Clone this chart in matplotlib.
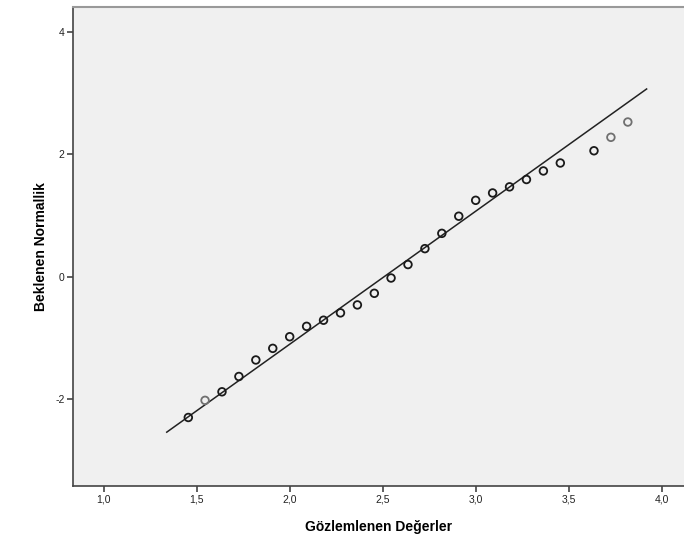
import numpy as np
import matplotlib.pyplot as plt
from matplotlib.ticker import FixedLocator, FuncFormatter

plt.rcParams['font.family'] = ['Liberation Sans', 'DejaVu Sans']

# gozlenen degerler (x) ve beklenen normal degerler (y)
obs = [1.455, 1.545, 1.636, 1.727, 1.818, 1.909, 2.0, 2.091, 2.182, 2.273,
       2.364, 2.455, 2.545, 2.636, 2.727, 2.818, 2.909, 3.0, 3.091, 3.182,
       3.273, 3.364, 3.455, 3.636, 3.727, 3.818]
expected = [-2.30, -2.02, -1.88, -1.63, -1.36, -1.17, -0.98, -0.81, -0.71, -0.59,
            -0.46, -0.27, -0.02, 0.20, 0.46, 0.71, 0.99, 1.25, 1.37, 1.47,
            1.59, 1.73, 1.86, 2.06, 2.28, 2.53]
# tekrar eden degerler daha koyu gorunuyor
dark = [1, 0, 1, 1, 1, 1, 1, 1, 1, 1,
        1, 1, 1, 1, 1, 1, 1, 1, 1, 1,
        1, 1, 1, 1, 0, 0]

# referans dogrusu
line_x = [1.339, 3.919]
line_y = [-2.54, 3.07]

xticks = [1.0, 1.5, 2.0, 2.5, 3.0, 3.5, 4.0]
yticks = [-2, 0, 2, 4]

fig = plt.figure(figsize=(6.84, 5.5), dpi=100)
ax = fig.add_axes([73 / 684, 1 - 486 / 550, (684 - 73) / 684, (486 - 7) / 550])
ax.set_facecolor('#f0f0f0')

ax.plot(line_x, line_y, color='#222222', lw=1.1, zorder=2)
cols = ['#1a1a1a' if d else '#707070' for d in dark]
ax.scatter(obs, expected, s=30, facecolors='none', edgecolors=cols,
           linewidths=1.3, zorder=3)

ax.set_xlim(0.835, 4.12)
ax.set_ylim(-3.42, 4.41)
ax.xaxis.set_major_locator(FixedLocator(xticks))
ax.yaxis.set_major_locator(FixedLocator(yticks))
ax.xaxis.set_major_formatter(FuncFormatter(lambda v, p: ('%.1f' % v).replace('.', ',')))
ax.yaxis.set_major_formatter(FuncFormatter(lambda v, p: '%d' % v))
ax.tick_params(direction='out', length=4, width=1.2, color='#444444',
               labelsize=7.5, labelcolor='#222222', pad=2)

for s in ['left', 'bottom']:
    ax.spines[s].set_color('#444444')
    ax.spines[s].set_linewidth(1.2)
ax.spines['top'].set_color('#999999')
ax.spines['top'].set_linewidth(1.5)
ax.spines['right'].set_visible(False)

ax.set_xlabel('Gözlemlenen Değerler', fontsize=10, fontweight='bold', labelpad=11)
ax.set_ylabel('Beklenen Normallik', fontsize=10, fontweight='bold', labelpad=5)

fig.savefig('out.png', dpi=100)
